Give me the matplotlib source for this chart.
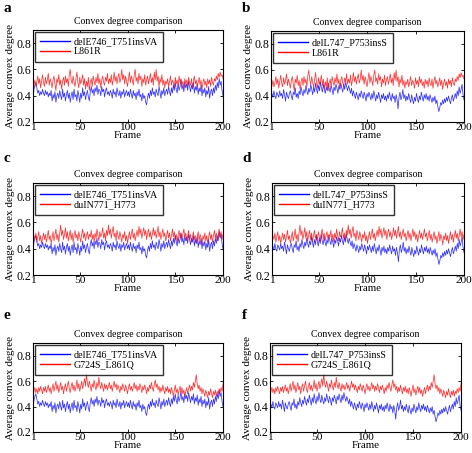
import matplotlib
matplotlib.use("Agg")
import matplotlib.pyplot as plt
import numpy as np

frames = list(range(1, 201))

blue_delE746 = [
0.38,0.45,0.48,0.50,0.46,0.42,0.44,0.40,0.43,0.41,0.45,0.42,0.40,0.44,0.41,0.43,0.39,0.42,0.40,0.44,
0.36,0.41,0.38,0.43,0.35,0.40,0.42,0.38,0.44,0.40,0.37,0.45,0.39,0.42,0.36,0.41,0.44,0.38,0.42,0.35,
0.40,0.43,0.37,0.45,0.39,0.41,0.36,0.44,0.40,0.35,0.42,0.38,0.46,0.40,0.43,0.37,0.41,0.44,0.39,0.36,
0.43,0.47,0.42,0.45,0.40,0.46,0.43,0.48,0.41,0.45,0.44,0.40,0.47,0.43,0.45,0.39,0.44,0.46,0.41,0.43,
0.40,0.44,0.42,0.38,0.45,0.41,0.43,0.39,0.46,0.42,0.40,0.44,0.38,0.43,0.41,0.45,0.39,0.42,0.44,0.40,
0.43,0.39,0.45,0.41,0.38,0.44,0.40,0.42,0.37,0.43,0.40,0.45,0.39,0.41,0.36,0.42,0.38,0.40,0.35,0.33,
0.39,0.42,0.38,0.44,0.40,0.46,0.41,0.43,0.39,0.45,0.42,0.40,0.47,0.43,0.38,0.44,0.41,0.46,0.40,0.43,
0.45,0.41,0.47,0.43,0.40,0.46,0.42,0.48,0.44,0.50,0.45,0.42,0.49,0.44,0.47,0.52,0.45,0.48,0.43,0.50,
0.46,0.49,0.44,0.51,0.47,0.43,0.48,0.45,0.50,0.42,0.47,0.44,0.49,0.41,0.46,0.43,0.48,0.40,0.45,0.42,
0.46,0.39,0.44,0.41,0.47,0.38,0.43,0.45,0.40,0.46,0.42,0.48,0.44,0.50,0.46,0.53,0.48,0.51,0.44,0.40]

blue_delL747 = [
0.37,0.42,0.39,0.44,0.40,0.38,0.43,0.41,0.39,0.44,0.40,0.42,0.38,0.45,0.41,0.36,0.43,0.40,0.38,0.42,
0.44,0.40,0.37,0.43,0.41,0.46,0.39,0.42,0.38,0.44,0.41,0.47,0.43,0.40,0.45,0.42,0.48,0.44,0.41,0.46,
0.43,0.49,0.45,0.41,0.47,0.43,0.50,0.45,0.42,0.48,0.44,0.51,0.46,0.43,0.49,0.45,0.42,0.47,0.44,0.50,
0.46,0.43,0.48,0.45,0.41,0.47,0.44,0.49,0.46,0.42,0.48,0.45,0.50,0.46,0.43,0.49,0.45,0.51,0.47,0.44,
0.48,0.45,0.42,0.46,0.40,0.44,0.41,0.38,0.43,0.40,0.37,0.42,0.39,0.44,0.41,0.38,0.43,0.40,0.36,0.42,
0.39,0.43,0.40,0.37,0.42,0.38,0.44,0.40,0.36,0.41,0.38,0.43,0.39,0.35,0.41,0.38,0.42,0.37,0.40,0.36,
0.41,0.38,0.43,0.39,0.36,0.42,0.38,0.40,0.35,0.41,0.37,0.30,0.39,0.43,0.37,0.40,0.45,0.38,0.41,0.36,
0.40,0.37,0.42,0.38,0.35,0.41,0.37,0.34,0.39,0.36,0.42,0.38,0.35,0.40,0.37,0.43,0.39,0.36,0.41,0.38,
0.42,0.37,0.40,0.36,0.41,0.38,0.35,0.39,0.36,0.40,0.34,0.37,0.32,0.28,0.31,0.35,0.33,0.37,0.34,0.38,
0.35,0.39,0.36,0.40,0.37,0.34,0.38,0.41,0.36,0.39,0.42,0.38,0.44,0.40,0.47,0.42,0.45,0.49,0.41,0.37]

red_L861R = [
0.45,0.48,0.52,0.47,0.50,0.55,0.49,0.53,0.46,0.51,0.56,0.50,0.47,0.54,0.49,0.52,0.57,0.48,0.53,0.50,
0.46,0.52,0.55,0.49,0.44,0.53,0.50,0.56,0.48,0.52,0.45,0.51,0.54,0.48,0.55,0.50,0.53,0.47,0.56,0.60,
0.52,0.49,0.55,0.50,0.47,0.53,0.58,0.50,0.46,0.54,0.49,0.52,0.56,0.48,0.53,0.45,0.51,0.47,0.54,0.44,
0.50,0.53,0.47,0.55,0.51,0.48,0.54,0.50,0.57,0.49,0.53,0.46,0.52,0.55,0.50,0.48,0.54,0.51,0.57,0.49,
0.53,0.50,0.56,0.48,0.52,0.58,0.51,0.55,0.49,0.54,0.57,0.50,0.53,0.60,0.52,0.56,0.49,0.55,0.51,0.47,
0.53,0.58,0.50,0.55,0.52,0.48,0.56,0.60,0.51,0.54,0.49,0.57,0.52,0.55,0.47,0.53,0.50,0.56,0.48,0.52,
0.55,0.49,0.53,0.57,0.50,0.54,0.48,0.58,0.52,0.60,0.51,0.55,0.47,0.53,0.50,0.56,0.48,0.52,0.46,0.51,
0.49,0.53,0.47,0.51,0.55,0.48,0.52,0.50,0.46,0.54,0.49,0.52,0.47,0.55,0.50,0.53,0.48,0.51,0.46,0.53,
0.49,0.52,0.47,0.54,0.50,0.48,0.53,0.46,0.51,0.55,0.49,0.52,0.47,0.50,0.54,0.48,0.52,0.45,0.50,0.53,
0.48,0.51,0.46,0.53,0.49,0.52,0.47,0.54,0.50,0.48,0.53,0.51,0.55,0.52,0.57,0.54,0.58,0.55,0.56,0.53]

red_duIN771 = [
0.44,0.50,0.47,0.52,0.45,0.49,0.53,0.46,0.50,0.44,0.48,0.52,0.47,0.51,0.45,0.49,0.54,0.47,0.50,0.44,
0.48,0.53,0.46,0.50,0.55,0.47,0.51,0.45,0.52,0.58,0.50,0.54,0.47,0.51,0.56,0.48,0.53,0.46,0.50,0.54,
0.47,0.52,0.45,0.50,0.54,0.48,0.51,0.46,0.53,0.49,0.45,0.51,0.55,0.48,0.52,0.46,0.50,0.53,0.47,0.51,
0.49,0.54,0.47,0.51,0.45,0.52,0.48,0.55,0.50,0.46,0.53,0.49,0.51,0.56,0.48,0.52,0.46,0.54,0.50,0.58,
0.51,0.55,0.48,0.53,0.57,0.49,0.52,0.46,0.54,0.50,0.47,0.53,0.49,0.45,0.51,0.48,0.53,0.46,0.50,0.44,
0.49,0.53,0.47,0.51,0.55,0.48,0.52,0.46,0.50,0.54,0.49,0.57,0.51,0.55,0.48,0.52,0.56,0.50,0.54,0.47,
0.52,0.55,0.49,0.53,0.47,0.51,0.56,0.50,0.54,0.48,0.52,0.57,0.49,0.53,0.47,0.51,0.55,0.49,0.52,0.46,
0.50,0.54,0.48,0.52,0.46,0.50,0.55,0.49,0.53,0.47,0.51,0.45,0.50,0.54,0.48,0.52,0.47,0.51,0.55,0.49,
0.52,0.46,0.50,0.54,0.47,0.51,0.45,0.49,0.53,0.47,0.50,0.44,0.49,0.53,0.46,0.51,0.48,0.43,0.50,0.47,
0.52,0.46,0.50,0.44,0.49,0.53,0.47,0.51,0.45,0.50,0.54,0.48,0.52,0.46,0.50,0.55,0.49,0.53,0.47,0.51]

red_G724S = [
0.47,0.52,0.55,0.51,0.54,0.50,0.55,0.52,0.56,0.53,0.50,0.55,0.52,0.56,0.51,0.54,0.57,0.52,0.55,0.50,
0.54,0.58,0.52,0.56,0.60,0.53,0.57,0.51,0.55,0.59,0.53,0.56,0.50,0.55,0.58,0.52,0.56,0.60,0.54,0.51,
0.56,0.59,0.53,0.57,0.52,0.55,0.61,0.54,0.58,0.52,0.56,0.60,0.54,0.58,0.62,0.56,0.66,0.58,0.55,0.60,
0.56,0.52,0.58,0.55,0.61,0.56,0.53,0.59,0.55,0.63,0.57,0.54,0.59,0.55,0.52,0.58,0.54,0.57,0.53,0.56,
0.59,0.54,0.57,0.52,0.56,0.60,0.55,0.58,0.53,0.57,0.54,0.51,0.56,0.53,0.58,0.55,0.52,0.57,0.54,0.50,
0.55,0.58,0.53,0.56,0.52,0.55,0.59,0.54,0.57,0.52,0.56,0.53,0.58,0.55,0.51,0.56,0.53,0.57,0.54,0.50,
0.55,0.52,0.57,0.54,0.59,0.55,0.52,0.57,0.61,0.55,0.58,0.53,0.56,0.51,0.55,0.52,0.57,0.53,0.50,0.55,
0.52,0.56,0.51,0.54,0.50,0.55,0.52,0.48,0.53,0.57,0.51,0.54,0.49,0.53,0.56,0.51,0.55,0.50,0.53,0.48,
0.52,0.55,0.50,0.54,0.57,0.52,0.56,0.53,0.59,0.55,0.60,0.65,0.58,0.54,0.57,0.52,0.55,0.50,0.54,0.51,
0.48,0.53,0.50,0.47,0.52,0.49,0.54,0.50,0.47,0.52,0.49,0.53,0.48,0.52,0.50,0.54,0.51,0.55,0.52,0.58]

panel_letters = ["a", "b", "c", "d", "e", "f"]
blue_names = ["delE746_T751insVA", "delL747_P753insS"]
red_names = ["L861R", "duIN771_H773", "G724S_L861Q"]
blue_series = [blue_delE746, blue_delL747]
red_series = [red_L861R, red_duIN771, red_G724S]
xticks = [1, 50, 100, 150, 200]
yticks = [0.2, 0.4, 0.6, 0.8]

plt.rcParams['font.family'] = ['Liberation Serif', 'DejaVu Serif']

W, H = 472, 453
fig = plt.figure(figsize=(W/100, H/100), dpi=100)

# axes boxes in pixels: (left, top, right, bottom)
boxes = [(33, 30, 223, 122), (271, 31, 464, 122),
         (33, 183, 223, 275), (272, 183, 464, 275),
         (33, 343, 223, 432), (270, 343, 461, 432)]
letter_pos = [(3, 2), (242, 2), (3, 152), (242, 152), (3, 309), (242, 309)]

for i in range(6):
    l, t, r, b = boxes[i]
    ax = fig.add_axes([l/W, 1-b/H, (r-l)/W, (b-t)/H])
    bi = i % 2
    ri = i // 2
    ax.plot(frames, blue_series[bi], color='#0000ff', lw=0.55, alpha=0.8, label=blue_names[bi])
    ax.plot(frames, red_series[ri], color='#ff0000', lw=0.55, alpha=0.8, label=red_names[ri])
    ax.set_xlim(1, 200)
    ax.set_ylim(0.2, 0.9)
    ax.set_xticks(xticks)
    ax.set_yticks(yticks)
    ax.set_yticklabels([f"{v:.1f}" for v in yticks])
    ax.tick_params(direction='in', length=2.5, width=0.6, labelsize=8.5, pad=1,
                   top=True, right=True)
    ax.tick_params(axis='x', labelsize=8.2, pad=0.5)
    for s in ax.spines.values():
        s.set_linewidth(0.8)
    ax.set_title("Convex degree comparison", fontsize=7.1, pad=4)
    ax.set_xlabel("Frame", fontsize=7.8, labelpad=-0.5)
    ax.set_ylabel("Average convex degree", fontsize=8, labelpad=1)
    leg = ax.legend(loc='upper left', fontsize=7.2, frameon=True, fancybox=False,
                    borderpad=0.5, labelspacing=0.15, handlelength=3.0, handletextpad=0.4,
                    borderaxespad=0.2)
    leg.get_frame().set_edgecolor('black')
    leg.get_frame().set_linewidth(1.0)
    for ln in leg.get_lines():
        ln.set_linewidth(1.0)
        ln.set_alpha(1.0)
    fig.text(letter_pos[i][0]/W, 1-letter_pos[i][1]/H, panel_letters[i],
             fontsize=11, fontweight='bold', ha='left', va='top')

fig.savefig("out.png", dpi=100)
